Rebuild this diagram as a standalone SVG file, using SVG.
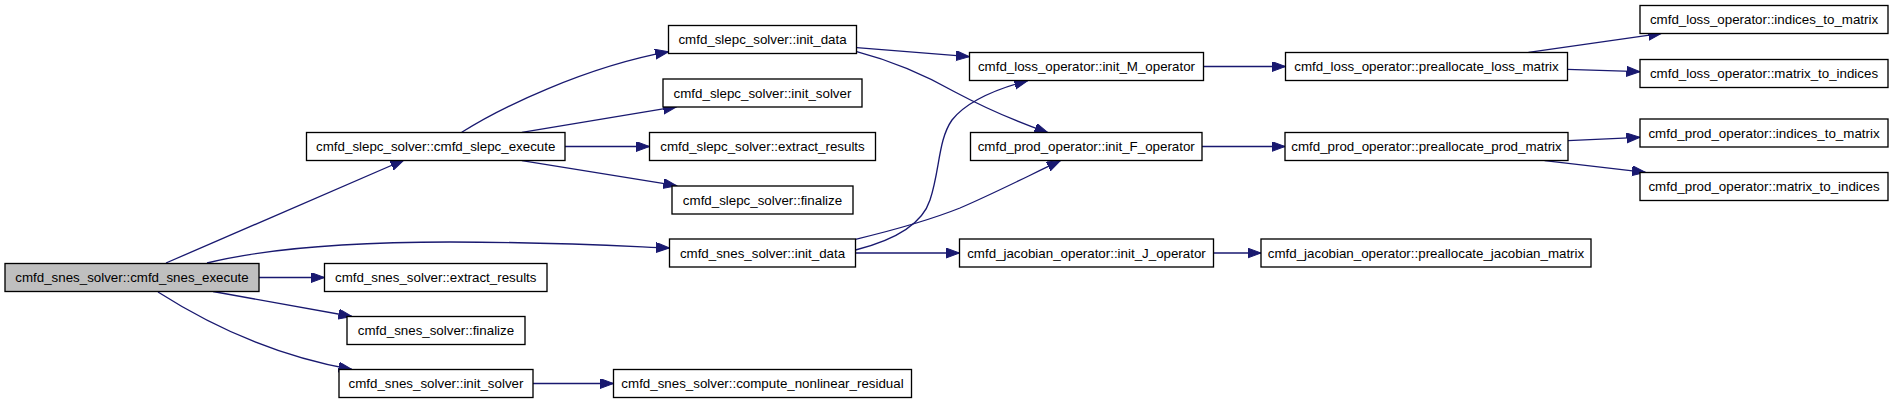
<svg xmlns="http://www.w3.org/2000/svg" width="1893" height="404" viewBox="0 0 1893 404">
<style>
.n rect{fill:#ffffff;stroke:#000000;stroke-width:1.33}
.n.root rect{fill:#bfbfbf}
.n text{font-family:"Liberation Sans",Arial,sans-serif;font-size:13.33px;text-anchor:middle;fill:#000000}
.e path{fill:none;stroke:#191970;stroke-width:1.33;marker-end:url(#arr)}
</style>
<defs>
<marker id="arr" markerUnits="userSpaceOnUse" markerWidth="15" markerHeight="12" refX="13.5" refY="5" orient="auto">
<path d="M0,0 L13.5,5 L0,10 z" fill="#191970" stroke="#191970" stroke-width="1"/>
</marker>
</defs>
<rect x="0" y="0" width="1893" height="404" fill="#ffffff"/>
<g id="edges" class="e">
<path d="M166,263 L404,160"/>
<path d="M207,263 C260,250 340,242 450,242 C550,242 620,246 669.5,248"/>
<path d="M259,277.5 L324.5,277.5"/>
<path d="M213,291.5 L352,316.5"/>
<path d="M158,292 C205,322 270,355 352,369.5"/>
<path d="M461.7,132.3 C500,108 585,67 668.6,51.7"/>
<path d="M521.9,132.3 L676.7,106.7"/>
<path d="M565,146.5 L649.5,146.5"/>
<path d="M521.9,160.7 L676.7,185.7"/>
<path d="M856.7,47.7 L969.4,56.7"/>
<path d="M856.7,51.7 C900,63 930,78 955,92 C985,108 1015,121 1048,132.7"/>
<path d="M855.5,250 C895,240 922,225 930,200 C940,170 938,140 952,120 C968,100 1000,88 1027.8,80.7"/>
<path d="M855.5,239.3 C890,231 930,220 960,208 C995,193 1030,175 1060.4,160.7"/>
<path d="M855.5,253 L959.5,253"/>
<path d="M1203.5,66.5 L1285.5,66.5"/>
<path d="M1202,146.5 L1285,146.5"/>
<path d="M1213.5,253 L1261,253"/>
<path d="M1528.5,52.3 L1661.7,33.3"/>
<path d="M1567.2,69.3 L1640,71.7"/>
<path d="M1568,140.7 L1640,137.3"/>
<path d="M1544.6,160.7 L1645.5,172.3"/>
<path d="M533,383.5 L613.5,383.5"/>
</g>
<g id="snes_execute" class="n root"><rect x="5" y="263.5" width="254" height="28"/><text x="132" y="282.2">cmfd_snes_solver::cmfd_snes_execute</text></g>
<g id="slepc_execute" class="n"><rect x="306.5" y="132.5" width="258.5" height="28"/><text x="435.75" y="151.2">cmfd_slepc_solver::cmfd_slepc_execute</text></g>
<g id="snes_extract_results" class="n"><rect x="324.5" y="263.5" width="222.5" height="28"/><text x="435.75" y="282.2">cmfd_snes_solver::extract_results</text></g>
<g id="snes_finalize" class="n"><rect x="347" y="316.5" width="178" height="28"/><text x="436" y="335.2">cmfd_snes_solver::finalize</text></g>
<g id="snes_init_solver" class="n"><rect x="339" y="369.5" width="194" height="28"/><text x="436" y="388.2">cmfd_snes_solver::init_solver</text></g>
<g id="compute_nonlinear_residual" class="n"><rect x="613.5" y="369.5" width="298" height="28"/><text x="762.5" y="388.2">cmfd_snes_solver::compute_nonlinear_residual</text></g>
<g id="slepc_init_data" class="n"><rect x="668.5" y="25.5" width="188" height="28"/><text x="762.5" y="44.2">cmfd_slepc_solver::init_data</text></g>
<g id="slepc_init_solver" class="n"><rect x="663" y="79" width="199" height="28"/><text x="762.5" y="97.7">cmfd_slepc_solver::init_solver</text></g>
<g id="slepc_extract_results" class="n"><rect x="649.5" y="132.5" width="226" height="28"/><text x="762.5" y="151.2">cmfd_slepc_solver::extract_results</text></g>
<g id="slepc_finalize" class="n"><rect x="672" y="186" width="181" height="28"/><text x="762.5" y="204.7">cmfd_slepc_solver::finalize</text></g>
<g id="snes_init_data" class="n"><rect x="669.5" y="239" width="186" height="28"/><text x="762.5" y="257.7">cmfd_snes_solver::init_data</text></g>
<g id="init_M_operator" class="n"><rect x="969.5" y="52.5" width="234" height="28"/><text x="1086.5" y="71.2">cmfd_loss_operator::init_M_operator</text></g>
<g id="init_F_operator" class="n"><rect x="970.5" y="132.5" width="231.5" height="28"/><text x="1086.25" y="151.2">cmfd_prod_operator::init_F_operator</text></g>
<g id="init_J_operator" class="n"><rect x="959.5" y="239" width="254" height="28"/><text x="1086.5" y="257.7">cmfd_jacobian_operator::init_J_operator</text></g>
<g id="preallocate_loss_matrix" class="n"><rect x="1285.5" y="52.5" width="282" height="28"/><text x="1426.5" y="71.2">cmfd_loss_operator::preallocate_loss_matrix</text></g>
<g id="preallocate_prod_matrix" class="n"><rect x="1285" y="132.5" width="283" height="28"/><text x="1426.5" y="151.2">cmfd_prod_operator::preallocate_prod_matrix</text></g>
<g id="preallocate_jacobian_matrix" class="n"><rect x="1261" y="239" width="330" height="28"/><text x="1426" y="257.7">cmfd_jacobian_operator::preallocate_jacobian_matrix</text></g>
<g id="loss_indices_to_matrix" class="n"><rect x="1640" y="5.5" width="248" height="28"/><text x="1764" y="24.2">cmfd_loss_operator::indices_to_matrix</text></g>
<g id="loss_matrix_to_indices" class="n"><rect x="1640" y="59.5" width="248" height="28"/><text x="1764" y="78.2">cmfd_loss_operator::matrix_to_indices</text></g>
<g id="prod_indices_to_matrix" class="n"><rect x="1640" y="119" width="248" height="28"/><text x="1764" y="137.7">cmfd_prod_operator::indices_to_matrix</text></g>
<g id="prod_matrix_to_indices" class="n"><rect x="1640" y="172.5" width="248" height="28"/><text x="1764" y="191.2">cmfd_prod_operator::matrix_to_indices</text></g>
</svg>
